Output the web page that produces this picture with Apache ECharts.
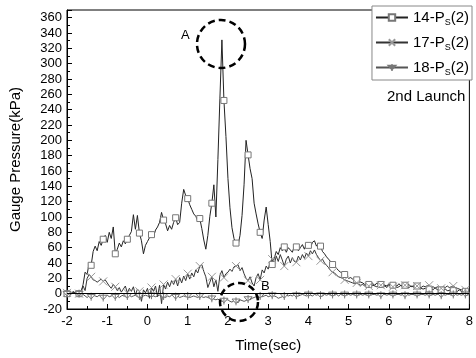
<!DOCTYPE html>
<html lang="en">
<head>
<meta charset="UTF-8">
<title>Gauge Pressure</title>
<script src="https://cdn.jsdelivr.net/npm/echarts@6/dist/echarts.min.js"></script>
</head>
<body style="margin:0;background:#fff">
<div id="box" style="width:476px;height:358px;"></div>
<script>
// sampling grid of the traces: every 0.05 s from -2 s
var tStart = -2, tStep = 0.05;

var p14 = [
  0, 1, -1, 2, 0, 1, 0, 2, 12, 28,
  25, 40, 37, 55, 62, 56, 68, 63, 71, 76,
  67, 80, 72, 87, 52, 58, 66, 61, 69, 65,
  71, 76, 81, 103, 84, 102, 79, 69, 52, 63,
  68, 73, 77, 74, 83, 87, 93, 106, 96, 91,
  82, 89, 84, 93, 99, 90, 93, 118, 136, 128,
  124, 116, 110, 104, 101, 95, 98, 85, 70, 58,
  76, 101, 118, 142, 100, 175, 255, 331, 252, 205,
  150, 112, 86, 72, 66, 63, 76, 102, 142, 200,
  181, 163, 150, 118, 104, 91, 80, 72, 96, 113,
  90, 68, 38, 46, 55, 51, 60, 56, 61, 54,
  60, 57, 54, 62, 61, 56, 60, 64, 58, 65,
  63, 60, 67, 69, 62, 66, 62, 55, 52, 48,
  45, 42, 38, 36, 33, 30, 28, 27, 25, 22,
  20, 21, 19, 18, 18, 16, 15, 14, 12, 13,
  12, 11, 13, 11, 14, 11, 12, 12, 11, 10,
  13, 10, 11, 11, 10, 13, 10, 10, 11, 10,
  12, 9, 10, 10, 10, 8, 7, 6, 7, 6,
  6, 6, 5, 8, 5, 5, 5, 4, 6, 4,
  4, 5, 4, 4, 3, 5, 3, 3, 3, 3,
  3
];
var p17 = [
  1, 2, 0, 3, 1, 2, 0, 3, 10, 4,
  20, 25, 22, 18, 17, 15, 17, 19, 16, 18,
  14, 10, 7, 12, 9, 4, 8, 2, 6, 10,
  1, 7, 3, 9, -2, 6, 3, -10, 5, 1,
  7, -6, 8, 3, 10, -4, 11, -13, 12, 6,
  15, 9, 17, 12, 19, 10, 21, 14, 23, 17,
  26, 19, 27, 22, 31, 27, 36, 38, 29, 22,
  8, 15, 22, 9, 18, 3, 24, 30, 21, 26,
  28, 32, 29, 35, 36, 38, 30, 34, 26, 20,
  17, 22, 14, 10, 21, 26, 18, 31, 27, 36,
  32, 41, 45, 38, 49, 42, 51, 44, 36, 45,
  49, 40, 47, 42, 41, 49, 44, 51, 46, 53,
  49, 56, 52, 57, 51, 47, 43, 45, 40, 37,
  34, 30, 28, 27, 24, 22, 21, 20, 18, 17,
  16, 15, 14, 13, 14, 12, 11, 12, 10, 11,
  10, 9, 11, 10, 9, 10, 11, 9, 10, 8,
  11, 10, 9, 10, 8, 9, 11, 10, 11, 9,
  8, 10, 9, 8, 10, 9, 8, 10, 9, 10,
  11, 8, 9, 7, 9, 8, 7, 9, 8, 10,
  8, 9, 10, 8, 7, 6, 5, 6, 5, 4,
  5
];
var p18 = [
  0, 1, 0, 1, 0, -1, 0, 1, -1, -3,
  -5, -3, -4, -2, -3, -4, -2, -3, -5, -3,
  -2, -4, -3, -2, -4, -3, -5, -3, -2, -4,
  -3, -2, -4, -3, -2, -4, -3, -5, -3, -2,
  -3, -4, -2, -3, -4, -3, -2, -4, -3, -5,
  -3, -4, -2, -3, -4, -3, -5, -4, -3, -4,
  -3, -5, -4, -3, -4, -5, -3, -4, -5, -4,
  -5, -6, -6, -7, -8, -7, -9, -10, -9, -8,
  -8, -10, -11, -9, -10, -12, -8, -9, -10, -9,
  -7, -8, -6, -5, -4, -5, -3, -4, -3, -2,
  -4, -3, -2, -3, -4, -6, -5, -4, -3, -2,
  -3, -2, -3, -1, -2, -3, -2, -1, -2, -3,
  -1, -2, -3, -1, -2, -1, -2, -3, -1, -2,
  -1, -2, -1, -2, -1, -3, -1, -2, -1, -2,
  -1, -2, -1, -2, -1, -2, -1, -2, -1, -2,
  -1, -2, -1, -1, -2, -1, -2, -1, -1, -2,
  -1, -2, -1, -2, -1, -1, -2, -1, -2, -1,
  -2, -1, -1, -2, -1, -2, -1, -1, -2, -1,
  -1, -2, -1, -2, -1, -1, -2, -1, -2, -1,
  -1, -2, -1, -1, -2, -1, -2, -1, -1, -2,
  -1
];
var names = ['14-Ps(2)', '17-Ps(2)', '18-Ps(2)'];
var markEvery = 6; // a marker every 0.3 s

// [t, v] pairs; marker only on every 6th sample
function toData(vals) {
  return vals.map(function (v, i) {
    var t = +(tStart + i * tStep).toFixed(2);
    return i % markEvery === 0 ? [t, v] : { value: [t, v], symbol: 'none' };
  });
}

var font = 'Liberation Sans, Arial, sans-serif';
var myChart = echarts.init(document.getElementById('box'));

myChart.setOption({
  animation: false,
  backgroundColor: '#fff',
  grid: { left: 62, right: 1, top: 10, bottom: 44, show: true, borderColor: '#000', borderWidth: 1 },
  xAxis: {
    type: 'value', min: -2, max: 8, interval: 1,
    name: 'Time(sec)', nameLocation: 'middle', nameGap: 29,
    nameTextStyle: { fontSize: 15, color: '#000', fontFamily: font },
    axisLine: { onZero: false, lineStyle: { color: '#000' } },
    axisTick: { inside: true, length: 5, lineStyle: { color: '#000' } },
    minorTick: { show: true, splitNumber: 2, length: 3, lineStyle: { color: '#000' } },
    axisLabel: { fontSize: 13, color: '#000', fontFamily: font, margin: 6 },
    splitLine: { show: false }
  },
  yAxis: {
    type: 'value', min: -20, max: 370, interval: 20,
    name: 'Gauge Pressure(kPa)', nameLocation: 'middle', nameGap: 44,
    nameTextStyle: { fontSize: 15, color: '#000', fontFamily: font },
    axisLine: { onZero: false, lineStyle: { color: '#000' } },
    axisTick: { inside: true, length: 5, lineStyle: { color: '#000' } },
    minorTick: { show: true, splitNumber: 2, length: 3, lineStyle: { color: '#000' } },
    axisLabel: {
      fontSize: 13, color: '#000', fontFamily: font, margin: 5,
      formatter: function (v) { return v > 360 ? '' : v; }
    },
    splitLine: { show: false }
  },
  legend: {
    orient: 'vertical', right: 4, top: 6,
    backgroundColor: '#fff', borderColor: '#888', borderWidth: 1,
    padding: [4, 3, 3, 3], itemGap: 8, itemWidth: 32, itemHeight: 8,
    data: names,
    formatter: function (n) { return '{n|' + n.split('-')[0] + '-P}{s|S}{n|(2)}'; },
    textStyle: {
      color: '#000',
      rich: {
        n: { fontSize: 15, lineHeight: 19, fontFamily: font, color: '#000' },
        s: { fontSize: 9, lineHeight: 9, verticalAlign: 'bottom', fontFamily: font, color: '#000' }
      }
    }
  },
  graphic: [
    { type: 'text', left: 387, top: 89, style: { text: '2nd Launch', fontSize: 15, fontFamily: font, fill: '#000' } },
    { type: 'text', left: 181, top: 29, style: { text: 'A', fontSize: 13, fontFamily: font, fill: '#000' } },
    { type: 'text', left: 261, top: 280, style: { text: 'B', fontSize: 13, fontFamily: font, fill: '#000' } },
    { type: 'circle', shape: { cx: 221, cy: 44, r: 24 }, z: 10,
      style: { fill: 'none', stroke: '#000', lineWidth: 2.5, lineDash: [7, 4] } },
    { type: 'circle', shape: { cx: 239, cy: 302, r: 19 }, z: 10,
      style: { fill: 'none', stroke: '#000', lineWidth: 2.5, lineDash: [7, 4] } }
  ],
  series: [
    {
      name: names[0], type: 'line', data: toData(p14),
      symbol: 'rect', symbolSize: 6,
      lineStyle: { color: '#222', width: 1 },
      itemStyle: { color: '#fff', borderColor: '#777', borderWidth: 1 }
    },
    {
      name: names[1], type: 'line', data: toData(p17),
      symbol: 'path://M0,0L10,10M10,0L0,10', symbolSize: 8,
      lineStyle: { color: '#333', width: 1 },
      itemStyle: { color: '#999', borderColor: '#999', borderWidth: 1 }
    },
    {
      name: names[2], type: 'line', data: toData(p18),
      symbol: 'path://M0,0L10,0L5,8ZM5,-3L5,11', symbolSize: 8,
      lineStyle: { color: '#555', width: 1 },
      itemStyle: { color: '#fff', borderColor: '#777', borderWidth: 1 },
      markLine: {
        silent: true, symbol: 'none', label: { show: false },
        lineStyle: { color: '#000', width: 1, type: 'solid' },
        data: [{ yAxis: 0 }]
      }
    }
  ]
});
</script>
</body>
</html>
